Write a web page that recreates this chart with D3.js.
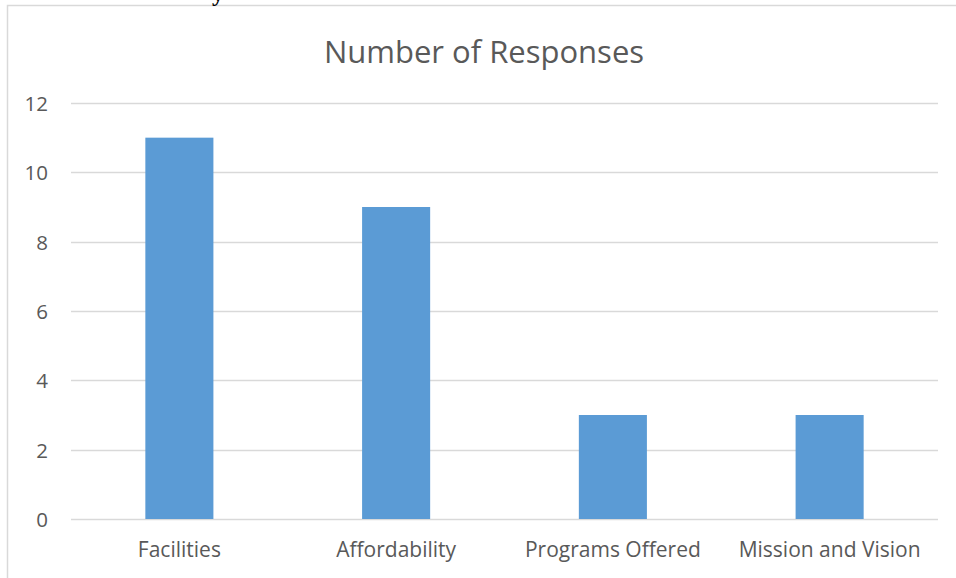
<!DOCTYPE html>
<html><head><meta charset="utf-8">
<script src="https://cdn.jsdelivr.net/npm/d3@7"></script>
<style>body{margin:0;background:#fff}svg{display:block}</style>
</head><body>
<svg id="c" width="956" height="578"></svg>
<script>
const categories = ["Facilities","Affordability","Programs Offered","Mission and Vision"];
const values = [11, 9, 3, 3];
const yTicks = [0, 2, 4, 6, 8, 10, 12];
const title = "Number of Responses";

const svg = d3.select("#c");
const W = 956, H = 578;
const m = {left:71, right:18, top:103, bottom:59};
const x = d3.scaleBand().domain(categories).range([m.left, W - m.right]).paddingInner(0.686).paddingOuter(0.343);
const y = d3.scaleLinear().domain([0, 12]).range([H - m.bottom, m.top]);

// frame
svg.append("rect").attr("x", 7.5).attr("y", 5.5).attr("width", 980).attr("height", 600)
  .attr("fill", "none").attr("stroke", "#d9d9d9").attr("stroke-width", 1.5);

// stray glyph from page above
svg.append("text").attr("x", 212).attr("y", 0.5).attr("font-family", "Liberation Serif")
  .attr("font-weight", "bold").attr("font-size", 24).attr("fill", "#000").text("y");

// gridlines
svg.append("g").selectAll("line").data(yTicks).join("line")
  .attr("x1", m.left).attr("x2", W - m.right)
  .attr("y1", d => Math.round(y(d)) + 0.5).attr("y2", d => Math.round(y(d)) + 0.5)
  .attr("stroke", "#d9d9d9").attr("stroke-width", 1.5);

// y axis labels
const yAxis = d3.axisLeft(y).tickValues(yTicks).tickSize(0).tickPadding(0);
const ya = svg.append("g").attr("transform", `translate(48,0)`).call(yAxis);
ya.select(".domain").remove();
ya.selectAll("text").attr("font-family", "Open Sans").attr("font-size", 20.5).attr("fill", "#595959").attr("dy", "0.36em");

// bars
svg.append("g").selectAll("rect").data(values).join("rect")
  .attr("x", (d, i) => x(categories[i])).attr("width", x.bandwidth())
  .attr("y", d => y(d)).attr("height", d => y(0) - y(d))
  .attr("fill", "#5b9bd5");

// x axis labels
const xAxis = d3.axisBottom(x).tickSize(0).tickPadding(0);
const xa = svg.append("g").attr("transform", `translate(0,${y(0)})`).call(xAxis);
xa.select(".domain").remove();
xa.selectAll("text").attr("font-family", "Open Sans").attr("font-size", 21).attr("fill", "#595959")
  .attr("dy", null).attr("y", 38);

// title
svg.append("text").attr("x", 484).attr("y", 63).attr("text-anchor", "middle")
  .attr("font-family", "Open Sans").attr("font-size", 31).attr("fill", "#595959").text(title);
</script>
</body></html>
